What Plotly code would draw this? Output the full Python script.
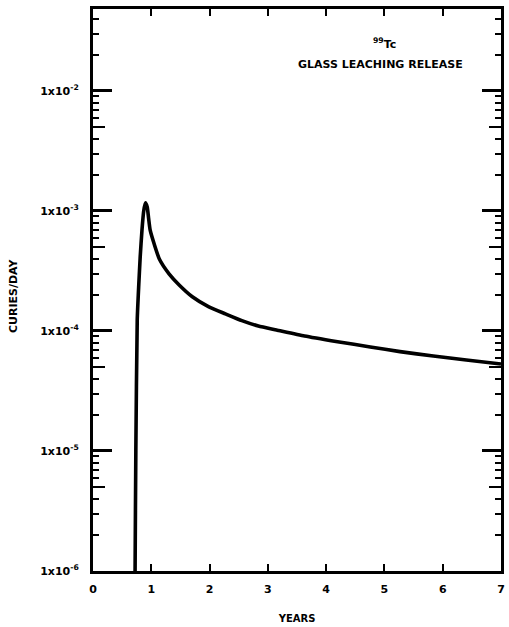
import plotly.graph_objects as go

# Data (years, curies/day)
years = [0.712, 0.722, 0.735, 0.759, 0.785, 0.810, 0.840, 0.870, 0.900, 0.930,
         0.955, 0.980, 1.05, 1.138, 1.308, 1.478, 1.704, 1.988, 2.271,
         2.554, 2.837, 3.148, 3.629, 4.196, 4.757, 5.267, 5.839, 6.405, 7.0]
curies = [1e-7, 1.0e-6, 1.0e-5, 1.24e-4, 2.4e-4, 4.16e-4, 6.9e-4, 1.0e-3, 1.17e-3, 1.08e-3,
          8.6e-4, 6.95e-4, 5.3e-4, 3.98e-4, 2.98e-4, 2.42e-4, 1.93e-4, 1.59e-4, 1.39e-4,
          1.22e-4, 1.10e-4, 1.02e-4, 9.08e-5, 8.14e-5, 7.36e-5, 6.73e-5, 6.19e-5, 5.73e-5, 5.31e-5]

x_ticks = [0, 1, 2, 3, 4, 5, 6, 7]
y_major = [1e-6, 1e-5, 1e-4, 1e-3, 1e-2]
y_major_labels = ["1x10<sup>-6</sup>", "1x10<sup>-5</sup>", "1x10<sup>-4</sup>",
                  "1x10<sup>-3</sup>", "1x10<sup>-2</sup>"]
y_minor = [m * 10 ** e for e in range(-6, -1) for m in (2, 3, 4, 6, 7, 8, 9)] + [2e-2, 3e-2, 4e-2]
y_half = [5 * 10 ** e for e in range(-6, -1)]

FONT = "DejaVu Sans"

fig = go.Figure()
fig.add_trace(go.Scatter(x=years, y=curies, mode="lines",
                         line=dict(color="black", width=3.6, shape="spline", smoothing=0.5),
                         showlegend=False, hoverinfo="skip"))
fig.add_trace(go.Scatter(x=[0], y=[1e-6], yaxis="y2", mode="markers",
                         marker=dict(opacity=0), showlegend=False, hoverinfo="skip"))

yr = [-6, -1.317]
fig.update_layout(
    width=509, height=627,
    margin=dict(l=93, r=4, t=9, b=56),
    paper_bgcolor="white", plot_bgcolor="white",
    font=dict(family=FONT, color="black"),
    xaxis=dict(range=[0, 7], tickvals=x_ticks, ticktext=[str(v) for v in x_ticks],
               ticks="inside", ticklen=7, tickwidth=2, tickcolor="black",
               showline=True, linewidth=3, linecolor="black", mirror="ticks",
               showgrid=False, zeroline=False, ticklabelstandoff=6,
               tickfont=dict(family=FONT, size=11, color="black", weight="bold"),
               title=dict(text="<b>YEARS</b>", font=dict(family=FONT, size=10), standoff=20)),
    yaxis=dict(type="log", range=yr, tickvals=y_major, ticktext=y_major_labels,
               ticks="inside", ticklen=19, tickwidth=2.5, tickcolor="black",
               showline=True, linewidth=3, linecolor="black", mirror="ticks",
               showgrid=False, zeroline=False, ticklabelstandoff=9,
               tickfont=dict(family=FONT, size=11, color="black", weight="bold"),
               minor=dict(tickvals=y_minor, ticks="inside", ticklen=6, tickwidth=2,
                          tickcolor="black", showgrid=False)),
    yaxis2=dict(type="log", range=yr, overlaying="y", side="left", anchor="x",
                tickvals=y_half, showticklabels=False,
                ticks="inside", ticklen=12, tickwidth=2, tickcolor="black",
                showline=False, mirror="ticks", showgrid=False, zeroline=False),
)

fig.add_annotation(text="<b>CURIES/DAY</b>", xref="paper", yref="paper",
                   x=-0.195, y=0.49, textangle=-90, showarrow=False,
                   font=dict(family=FONT, size=11, color="black"), xanchor="center")
fig.add_annotation(text="<b><sup>99</sup>Tc</b>", xref="paper", yref="paper",
                   x=0.715, y=0.955, showarrow=False, xanchor="center",
                   font=dict(family=FONT, size=11, color="black"))
fig.add_annotation(text="<b>GLASS LEACHING RELEASE</b>", xref="paper", yref="paper",
                   x=0.705, y=0.917, showarrow=False, xanchor="center",
                   font=dict(family=FONT, size=11, color="black"))

fig.write_html("out.html")
